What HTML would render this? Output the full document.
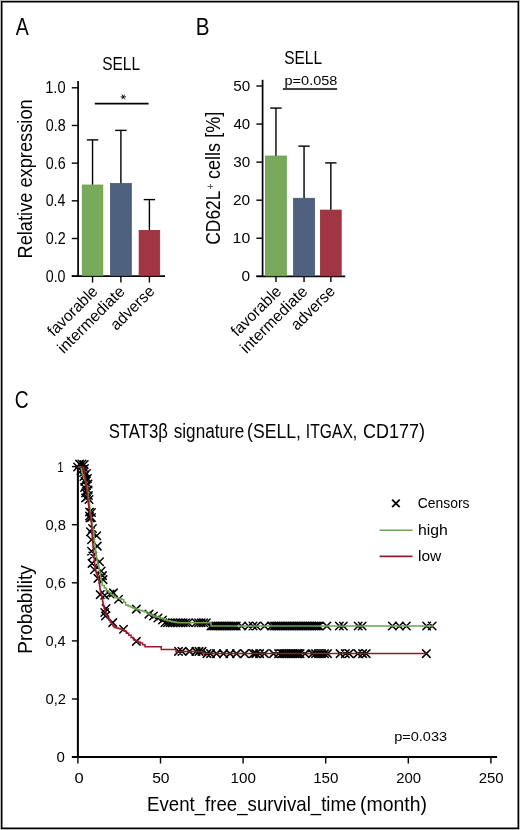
<!DOCTYPE html>
<html><head><meta charset="utf-8"><style>
html,body{margin:0;padding:0;background:#fff;}
body{width:520px;height:830px;overflow:hidden;}
svg{display:block;font-family:"Liberation Sans", sans-serif;will-change:transform;}
</style></head><body>
<svg width="520" height="830" viewBox="0 0 520 830">
<rect x="0" y="0" width="520" height="830" fill="#fff"/>
<rect x="0.5" y="0.5" width="519" height="829" fill="none" stroke="#bbb" stroke-width="1"/>
<rect x="1.75" y="1.75" width="516.5" height="826.5" fill="none" stroke="#000" stroke-width="1.5"/>
<text x="15.76" y="35.00" font-size="23.50" textLength="12.98" lengthAdjust="spacingAndGlyphs" fill="#000" >A</text>
<text x="102.20" y="69.80" font-size="18.90" textLength="37.91" lengthAdjust="spacingAndGlyphs" fill="#000" >SELL</text>
<path d="M120.6,96.9H126M121.9,94.5L124.7,99.3M124.7,94.5L121.9,99.3" stroke="#000" stroke-width="0.9" fill="none"/>
<line x1="94.8" y1="103.7" x2="148.6" y2="103.7" stroke="#000" stroke-width="1.8" />
<line x1="78.1" y1="81.1" x2="78.1" y2="277.05" stroke="#000" stroke-width="1.7" />
<line x1="71.8" y1="276.2" x2="165" y2="276.2" stroke="#000" stroke-width="1.7" />
<line x1="71.8" y1="276.2" x2="78.1" y2="276.2" stroke="#000" stroke-width="1.4" />
<line x1="71.8" y1="238.51999999999998" x2="78.1" y2="238.51999999999998" stroke="#000" stroke-width="1.4" />
<line x1="71.8" y1="200.83999999999997" x2="78.1" y2="200.83999999999997" stroke="#000" stroke-width="1.4" />
<line x1="71.8" y1="163.15999999999997" x2="78.1" y2="163.15999999999997" stroke="#000" stroke-width="1.4" />
<line x1="71.8" y1="125.47999999999999" x2="78.1" y2="125.47999999999999" stroke="#000" stroke-width="1.4" />
<line x1="71.8" y1="87.80000000000001" x2="78.1" y2="87.80000000000001" stroke="#000" stroke-width="1.4" />
<rect x="82.30" y="185.04" width="20.50" height="90.71" fill="#79a95b" stroke="#639a45" stroke-width="0.8"/>
<line x1="92.55000000000001" y1="139.8926" x2="92.55000000000001" y2="184.63760000000002" stroke="#000" stroke-width="1.4" />
<line x1="86.85000000000001" y1="139.8926" x2="98.25000000000001" y2="139.8926" stroke="#000" stroke-width="1.4" />
<line x1="92.55000000000001" y1="276.2" x2="92.55000000000001" y2="282.5" stroke="#000" stroke-width="1.4" />
<rect x="110.50" y="183.53" width="20.80" height="92.22" fill="#4e6280" stroke="#415675" stroke-width="0.8"/>
<line x1="120.89999999999999" y1="130.3784" x2="120.89999999999999" y2="183.1304" stroke="#000" stroke-width="1.4" />
<line x1="115.19999999999999" y1="130.3784" x2="126.6" y2="130.3784" stroke="#000" stroke-width="1.4" />
<line x1="120.89999999999999" y1="276.2" x2="120.89999999999999" y2="282.5" stroke="#000" stroke-width="1.4" />
<rect x="139.10" y="230.44" width="20.60" height="45.31" fill="#a03643" stroke="#922a38" stroke-width="0.8"/>
<line x1="149.39999999999998" y1="199.59656" x2="149.39999999999998" y2="230.042" stroke="#000" stroke-width="1.4" />
<line x1="143.7" y1="199.59656" x2="155.09999999999997" y2="199.59656" stroke="#000" stroke-width="1.4" />
<line x1="149.39999999999998" y1="276.2" x2="149.39999999999998" y2="282.5" stroke="#000" stroke-width="1.4" />
<text x="45.74" y="281.70" font-size="15.60" textLength="19.80" lengthAdjust="spacingAndGlyphs" fill="#000" >0.0</text>
<text x="45.74" y="244.02" font-size="15.60" textLength="19.98" lengthAdjust="spacingAndGlyphs" fill="#000" >0.2</text>
<text x="45.75" y="206.34" font-size="15.60" textLength="19.66" lengthAdjust="spacingAndGlyphs" fill="#000" >0.4</text>
<text x="45.74" y="168.66" font-size="15.60" textLength="19.87" lengthAdjust="spacingAndGlyphs" fill="#000" >0.6</text>
<text x="45.74" y="130.98" font-size="15.60" textLength="19.87" lengthAdjust="spacingAndGlyphs" fill="#000" >0.8</text>
<text x="45.19" y="93.30" font-size="15.60" textLength="20.37" lengthAdjust="spacingAndGlyphs" fill="#000" >1.0</text>
<text transform="translate(31.90,0) rotate(-90)" x="-258.50" y="0" font-size="20.60" textLength="159.17" lengthAdjust="spacingAndGlyphs" fill="#000">Relative expression</text>
<text transform="rotate(-45)" x="-200.61" y="276.48" font-size="15.90" textLength="63.69" lengthAdjust="spacingAndGlyphs">favorable</text>
<text transform="rotate(-45)" x="-205.33" y="295.64" font-size="15.90" textLength="87.45" lengthAdjust="spacingAndGlyphs">intermediate</text>
<text transform="rotate(-45)" x="-151.62" y="316.54" font-size="15.90" textLength="55.01" lengthAdjust="spacingAndGlyphs">adverse</text>
<text x="195.81" y="35.20" font-size="23.50" textLength="13.77" lengthAdjust="spacingAndGlyphs" fill="#000" >B</text>
<text x="284.20" y="63.80" font-size="18.90" textLength="37.91" lengthAdjust="spacingAndGlyphs" fill="#000" >SELL</text>
<text x="284.57" y="84.80" font-size="13.30" textLength="52.76" lengthAdjust="spacingAndGlyphs" fill="#000" >p=0.058</text>
<line x1="282.9" y1="89.0" x2="337.1" y2="89.0" stroke="#000" stroke-width="1.5" />
<line x1="262.6" y1="79.8" x2="262.6" y2="277.05" stroke="#000" stroke-width="1.7" />
<line x1="256.4" y1="276.3" x2="345.2" y2="276.3" stroke="#000" stroke-width="1.7" />
<line x1="256.4" y1="276.3" x2="262.6" y2="276.3" stroke="#000" stroke-width="1.4" />
<line x1="256.4" y1="238.24" x2="262.6" y2="238.24" stroke="#000" stroke-width="1.4" />
<line x1="256.4" y1="200.18" x2="262.6" y2="200.18" stroke="#000" stroke-width="1.4" />
<line x1="256.4" y1="162.12" x2="262.6" y2="162.12" stroke="#000" stroke-width="1.4" />
<line x1="256.4" y1="124.06" x2="262.6" y2="124.06" stroke="#000" stroke-width="1.4" />
<line x1="256.4" y1="86.0" x2="262.6" y2="86.0" stroke="#000" stroke-width="1.4" />
<rect x="265.60" y="156.05" width="20.70" height="119.80" fill="#79a95b" stroke="#639a45" stroke-width="0.8"/>
<line x1="275.95" y1="108.07480000000001" x2="275.95" y2="155.64980000000003" stroke="#000" stroke-width="1.4" />
<line x1="270.25" y1="108.07480000000001" x2="281.65" y2="108.07480000000001" stroke="#000" stroke-width="1.4" />
<line x1="275.95" y1="276.3" x2="275.95" y2="282.0" stroke="#000" stroke-width="1.4" />
<rect x="293.60" y="198.30" width="20.90" height="77.55" fill="#4e6280" stroke="#415675" stroke-width="0.8"/>
<line x1="304.04999999999995" y1="146.13479999999998" x2="304.04999999999995" y2="197.8964" stroke="#000" stroke-width="1.4" />
<line x1="298.34999999999997" y1="146.13479999999998" x2="309.74999999999994" y2="146.13479999999998" stroke="#000" stroke-width="1.4" />
<line x1="304.04999999999995" y1="276.3" x2="304.04999999999995" y2="282.0" stroke="#000" stroke-width="1.4" />
<rect x="320.50" y="210.09" width="20.70" height="65.76" fill="#a03643" stroke="#922a38" stroke-width="0.8"/>
<line x1="330.85" y1="162.8812" x2="330.85" y2="209.695" stroke="#000" stroke-width="1.4" />
<line x1="325.15000000000003" y1="162.8812" x2="336.55" y2="162.8812" stroke="#000" stroke-width="1.4" />
<line x1="330.85" y1="276.3" x2="330.85" y2="282.0" stroke="#000" stroke-width="1.4" />
<text x="241.60" y="281.30" font-size="15.40" textLength="8.59" lengthAdjust="spacingAndGlyphs" fill="#000" >0</text>
<text x="232.60" y="243.24" font-size="15.40" textLength="17.61" lengthAdjust="spacingAndGlyphs" fill="#000" >10</text>
<text x="233.03" y="205.18" font-size="15.40" textLength="17.16" lengthAdjust="spacingAndGlyphs" fill="#000" >20</text>
<text x="233.22" y="167.12" font-size="15.40" textLength="16.96" lengthAdjust="spacingAndGlyphs" fill="#000" >30</text>
<text x="233.47" y="129.06" font-size="15.40" textLength="16.71" lengthAdjust="spacingAndGlyphs" fill="#000" >40</text>
<text x="233.19" y="91.00" font-size="15.40" textLength="17.00" lengthAdjust="spacingAndGlyphs" fill="#000" >50</text>
<text transform="translate(219.50,0) rotate(-90)" x="-244.77" y="0" font-size="20.00" textLength="54.24" lengthAdjust="spacingAndGlyphs" fill="#000">CD62L</text>
<text transform="translate(213.8,0) rotate(-90)" x="-189.6" y="0" font-size="11.5" textLength="6.0" lengthAdjust="spacingAndGlyphs" fill="#333">+</text>
<text transform="translate(219.50,0) rotate(-90)" x="-178.96" y="0" font-size="20.00" textLength="67.14" lengthAdjust="spacingAndGlyphs" fill="#000">cells [%]</text>
<text transform="rotate(-45)" x="-70.79" y="406.30" font-size="15.90" textLength="63.69" lengthAdjust="spacingAndGlyphs">favorable</text>
<text transform="rotate(-45)" x="-76.14" y="424.83" font-size="15.90" textLength="87.45" lengthAdjust="spacingAndGlyphs">intermediate</text>
<text transform="rotate(-45)" x="-23.98" y="444.17" font-size="15.90" textLength="55.01" lengthAdjust="spacingAndGlyphs">adverse</text>
<text x="14.84" y="407.90" font-size="23.50" textLength="13.87" lengthAdjust="spacingAndGlyphs" fill="#000" >C</text>
<text x="108.65" y="437.60" font-size="19.30" textLength="59.32" lengthAdjust="spacingAndGlyphs" fill="#000" >STAT3β</text>
<text x="173.74" y="437.60" font-size="19.30" textLength="70.51" lengthAdjust="spacingAndGlyphs" fill="#000" >signature</text>
<text x="247.11" y="437.60" font-size="19.30" textLength="53.78" lengthAdjust="spacingAndGlyphs" fill="#000" >(SELL,</text>
<text x="305.86" y="437.60" font-size="19.30" textLength="51.34" lengthAdjust="spacingAndGlyphs" fill="#000" >ITGAX,</text>
<text x="363.00" y="437.60" font-size="19.30" textLength="61.91" lengthAdjust="spacingAndGlyphs" fill="#000" >CD177)</text>
<line x1="77.9" y1="465.6" x2="77.9" y2="758.0" stroke="#000" stroke-width="2.0" />
<line x1="71.9" y1="757.1" x2="497.1" y2="757.1" stroke="#000" stroke-width="2.0" />
<line x1="71.9" y1="757.1" x2="77.9" y2="757.1" stroke="#000" stroke-width="1.4" />
<line x1="71.9" y1="699.0" x2="77.9" y2="699.0" stroke="#000" stroke-width="1.4" />
<line x1="71.9" y1="640.9" x2="77.9" y2="640.9" stroke="#000" stroke-width="1.4" />
<line x1="71.9" y1="582.8" x2="77.9" y2="582.8" stroke="#000" stroke-width="1.4" />
<line x1="71.9" y1="524.7" x2="77.9" y2="524.7" stroke="#000" stroke-width="1.4" />
<line x1="71.9" y1="466.6" x2="77.9" y2="466.6" stroke="#000" stroke-width="1.4" />
<line x1="77.9" y1="757.1" x2="77.9" y2="763.5" stroke="#000" stroke-width="1.4" />
<line x1="160.5" y1="757.1" x2="160.5" y2="763.5" stroke="#000" stroke-width="1.4" />
<line x1="243.1" y1="757.1" x2="243.1" y2="763.5" stroke="#000" stroke-width="1.4" />
<line x1="325.7" y1="757.1" x2="325.7" y2="763.5" stroke="#000" stroke-width="1.4" />
<line x1="408.29999999999995" y1="757.1" x2="408.29999999999995" y2="763.5" stroke="#000" stroke-width="1.4" />
<line x1="490.9" y1="757.1" x2="490.9" y2="763.5" stroke="#000" stroke-width="1.4" />
<text x="56.61" y="762.40" font-size="14.90" textLength="8.36" lengthAdjust="spacingAndGlyphs" fill="#000" >0</text>
<text x="45.42" y="704.30" font-size="14.90" textLength="20.57" lengthAdjust="spacingAndGlyphs" fill="#000" >0,2</text>
<text x="45.43" y="646.20" font-size="14.90" textLength="20.24" lengthAdjust="spacingAndGlyphs" fill="#000" >0,4</text>
<text x="45.43" y="588.10" font-size="14.90" textLength="20.46" lengthAdjust="spacingAndGlyphs" fill="#000" >0,6</text>
<text x="45.43" y="530.00" font-size="14.90" textLength="20.46" lengthAdjust="spacingAndGlyphs" fill="#000" >0,8</text>
<text x="57.22" y="471.90" font-size="14.90" textLength="6.44" lengthAdjust="spacingAndGlyphs" fill="#000" >1</text>
<text x="74.41" y="782.90" font-size="14.90" textLength="9.17" lengthAdjust="spacingAndGlyphs" fill="#000" >0</text>
<text x="152.17" y="782.90" font-size="14.90" textLength="17.43" lengthAdjust="spacingAndGlyphs" fill="#000" >50</text>
<text x="230.55" y="782.90" font-size="14.90" textLength="25.34" lengthAdjust="spacingAndGlyphs" fill="#000" >100</text>
<text x="313.15" y="782.90" font-size="14.90" textLength="25.34" lengthAdjust="spacingAndGlyphs" fill="#000" >150</text>
<text x="396.15" y="782.90" font-size="14.90" textLength="24.92" lengthAdjust="spacingAndGlyphs" fill="#000" >200</text>
<text x="478.75" y="782.90" font-size="14.90" textLength="24.92" lengthAdjust="spacingAndGlyphs" fill="#000" >250</text>
<text transform="translate(31.70,0) rotate(-90)" x="-653.65" y="0" font-size="20.10" textLength="88.39" lengthAdjust="spacingAndGlyphs" fill="#000">Probability</text>
<text x="147.07" y="810.60" font-size="20.30" textLength="209.36" lengthAdjust="spacingAndGlyphs" fill="#000" >Event_free_survival_time</text>
<text x="360.10" y="810.60" font-size="20.30" textLength="66.91" lengthAdjust="spacingAndGlyphs" fill="#000" >(month)</text>
<path d="M392.1,499.6 L399.7,507.2 M399.7,499.6 L392.1,507.2" stroke="#000" stroke-width="1.8" fill="none"/>
<text x="417.81" y="508.10" font-size="15.40" textLength="51.69" lengthAdjust="spacingAndGlyphs" fill="#000" >Censors</text>
<line x1="379.6" y1="530.2" x2="412.5" y2="530.2" stroke="#6ea550" stroke-width="1.6" />
<text x="417.91" y="535.00" font-size="15.40" textLength="29.81" lengthAdjust="spacingAndGlyphs" fill="#000" >high</text>
<line x1="379.6" y1="556.4" x2="412.5" y2="556.4" stroke="#961a2d" stroke-width="1.6" />
<text x="417.96" y="560.70" font-size="15.40" textLength="23.30" lengthAdjust="spacingAndGlyphs" fill="#000" >low</text>
<text x="394.17" y="740.80" font-size="13.50" textLength="52.96" lengthAdjust="spacingAndGlyphs" fill="#000" >p=0.033</text>
<path d="M73.8,463.2L81.3,470.8M81.3,463.2L73.8,470.8M75.8,460.4L83.2,467.9M83.2,460.4L75.8,467.9M78.2,460.2L85.8,467.8M85.8,460.2L78.2,467.8M80.5,460.8L88.0,468.2M88.0,460.8L80.5,468.2M80.8,464.8L88.2,472.2M88.2,464.8L80.8,472.2M77.2,466.8L84.8,474.2M84.8,466.8L77.2,474.2M79.8,468.8L87.2,476.2M87.2,468.8L79.8,476.2M82.8,469.8L90.2,477.2M90.2,469.8L82.8,477.2M80.2,472.8L87.8,480.2M87.8,472.8L80.2,480.2M83.8,474.8L91.2,482.2M91.2,474.8L83.8,482.2M81.2,477.8L88.8,485.2M88.8,477.8L81.2,485.2M84.2,480.2L91.8,487.8M91.8,480.2L84.2,487.8M80.8,483.8L88.2,491.2M88.2,483.8L80.8,491.2M84.2,486.2L91.8,493.8M91.8,486.2L84.2,493.8M81.8,489.2L89.2,496.8M89.2,489.2L81.8,496.8M84.8,491.8L92.2,499.2M92.2,491.8L84.8,499.2M81.8,494.2L89.2,501.8M89.2,494.2L81.8,501.8M85.2,495.8L92.8,503.2M92.8,495.8L85.2,503.2M82.2,475.8L89.8,483.2M89.8,475.8L82.2,483.2M82.8,481.8L90.2,489.2M90.2,481.8L82.8,489.2M82.8,487.8L90.2,495.2M90.2,487.8L82.8,495.2M83.2,493.2L90.8,500.8M90.8,493.2L83.2,500.8M81.8,470.8L89.2,478.2M89.2,470.8L81.8,478.2M85.8,508.2L93.2,515.8M93.2,508.2L85.8,515.8M87.8,508.8L95.2,516.2M95.2,508.8L87.8,516.2M85.8,512.2L93.2,519.8M93.2,512.2L85.8,519.8M87.8,513.8L95.2,521.2M95.2,513.8L87.8,521.2M86.2,514.2L93.8,521.8M93.8,514.2L86.2,521.8M88.8,524.8L96.2,532.2M96.2,524.8L88.8,532.2M86.7,528.0L94.2,535.5M94.2,528.0L86.7,535.5M93.0,532.0L100.5,539.5M100.5,532.0L93.0,539.5M87.8,536.0L95.2,543.5M95.2,536.0L87.8,543.5M93.5,542.4L101.0,549.9M101.0,542.4L93.5,549.9M87.8,547.5L95.2,555.0M95.2,547.5L87.8,555.0M89.0,552.2L96.5,559.8M96.5,552.2L89.0,559.8M95.8,558.0L103.3,565.5M103.3,558.0L95.8,565.5M88.3,559.6L95.8,567.1M95.8,559.6L88.3,567.1M90.7,566.0L98.2,573.5M98.2,566.0L90.7,573.5M97.5,567.2L105.0,574.8M105.0,567.2L97.5,574.8M98.8,571.9L106.2,579.4M106.2,571.9L98.8,579.4M94.2,574.6L101.7,582.1M101.7,574.6L94.2,582.1M99.3,575.9L106.8,583.4M106.8,575.9L99.3,583.4M96.5,590.9L104.0,598.4M104.0,590.9L96.5,598.4M101.0,591.5L108.5,599.0M108.5,591.5L101.0,599.0M106.2,590.2L113.8,597.8M113.8,590.2L106.2,597.8M109.7,589.1L117.2,596.6M117.2,589.1L109.7,596.6M114.8,595.5L122.3,603.0M122.3,595.5L114.8,603.0M132.6,605.4L140.1,612.9M140.1,605.4L132.6,612.9M145.2,610.4L152.8,617.9M152.8,610.4L145.2,617.9M149.8,612.2L157.2,619.8M157.2,612.2L149.8,619.8M154.2,614.2L161.8,621.8M161.8,614.2L154.2,621.8M158.8,616.2L166.2,623.8M166.2,616.2L158.8,623.8M102.3,604.8L109.8,612.2M109.8,604.8L102.3,612.2M101.0,608.8L108.5,616.2M108.5,608.8L101.0,616.2M101.7,612.2L109.2,619.8M109.2,612.2L101.7,619.8M109.0,618.9L116.5,626.4M116.5,618.9L109.0,626.4M119.8,625.5L127.3,633.0M127.3,625.5L119.8,633.0M132.6,637.6L140.1,645.1M140.1,637.6L132.6,645.1M161.2,619.0L168.8,626.5M168.8,619.0L161.2,626.5M163.8,619.0L171.3,626.5M171.3,619.0L163.8,626.5M166.4,619.0L173.9,626.5M173.9,619.0L166.4,626.5M169.0,619.0L176.5,626.5M176.5,619.0L169.0,626.5M171.6,619.0L179.1,626.5M179.1,619.0L171.6,626.5M174.2,619.0L181.7,626.5M181.7,619.0L174.2,626.5M176.8,619.0L184.3,626.5M184.3,619.0L176.8,626.5M179.4,619.0L186.9,626.5M186.9,619.0L179.4,626.5M182.0,619.0L189.5,626.5M189.5,619.0L182.0,626.5M184.6,619.0L192.1,626.5M192.1,619.0L184.6,626.5M192.2,619.0L199.8,626.5M199.8,619.0L192.2,626.5M194.8,619.0L202.3,626.5M202.3,619.0L194.8,626.5M197.4,619.0L204.9,626.5M204.9,619.0L197.4,626.5M200.0,619.0L207.5,626.5M207.5,619.0L200.0,626.5M202.6,619.0L210.1,626.5M210.1,619.0L202.6,626.5M207.2,622.2L214.8,629.8M214.8,622.2L207.2,629.8M209.1,622.2L216.6,629.8M216.6,622.2L209.1,629.8M210.9,622.2L218.4,629.8M218.4,622.2L210.9,629.8M212.7,622.2L220.2,629.8M220.2,622.2L212.7,629.8M214.5,622.2L222.0,629.8M222.0,622.2L214.5,629.8M216.3,622.2L223.8,629.8M223.8,622.2L216.3,629.8M218.1,622.2L225.6,629.8M225.6,622.2L218.1,629.8M219.9,622.2L227.4,629.8M227.4,622.2L219.9,629.8M221.7,622.2L229.2,629.8M229.2,622.2L221.7,629.8M223.5,622.2L231.0,629.8M231.0,622.2L223.5,629.8M225.3,622.2L232.8,629.8M232.8,622.2L225.3,629.8M227.1,622.2L234.6,629.8M234.6,622.2L227.1,629.8M228.9,622.2L236.4,629.8M236.4,622.2L228.9,629.8M230.7,622.2L238.2,629.8M238.2,622.2L230.7,629.8M232.5,622.2L240.0,629.8M240.0,622.2L232.5,629.8M237.8,622.2L245.2,629.8M245.2,622.2L237.8,629.8M244.8,622.2L252.2,629.8M252.2,622.2L244.8,629.8M249.2,622.2L256.8,629.8M256.8,622.2L249.2,629.8M252.8,622.2L260.2,629.8M260.2,622.2L252.8,629.8M260.8,622.2L268.2,629.8M268.2,622.2L260.8,629.8M267.8,622.2L275.2,629.8M275.2,622.2L267.8,629.8M270.2,622.2L277.8,629.8M277.8,622.2L270.2,629.8M272.1,622.2L279.6,629.8M279.6,622.2L272.1,629.8M273.9,622.2L281.4,629.8M281.4,622.2L273.9,629.8M275.7,622.2L283.2,629.8M283.2,622.2L275.7,629.8M277.5,622.2L285.0,629.8M285.0,622.2L277.5,629.8M279.3,622.2L286.8,629.8M286.8,622.2L279.3,629.8M281.1,622.2L288.6,629.8M288.6,622.2L281.1,629.8M282.9,622.2L290.4,629.8M290.4,622.2L282.9,629.8M284.7,622.2L292.2,629.8M292.2,622.2L284.7,629.8M286.5,622.2L294.0,629.8M294.0,622.2L286.5,629.8M288.3,622.2L295.8,629.8M295.8,622.2L288.3,629.8M290.1,622.2L297.6,629.8M297.6,622.2L290.1,629.8M291.9,622.2L299.4,629.8M299.4,622.2L291.9,629.8M293.7,622.2L301.2,629.8M301.2,622.2L293.7,629.8M295.5,622.2L303.0,629.8M303.0,622.2L295.5,629.8M297.3,622.2L304.8,629.8M304.8,622.2L297.3,629.8M299.1,622.2L306.6,629.8M306.6,622.2L299.1,629.8M300.9,622.2L308.4,629.8M308.4,622.2L300.9,629.8M302.7,622.2L310.2,629.8M310.2,622.2L302.7,629.8M304.5,622.2L312.0,629.8M312.0,622.2L304.5,629.8M306.3,622.2L313.8,629.8M313.8,622.2L306.3,629.8M308.1,622.2L315.6,629.8M315.6,622.2L308.1,629.8M309.9,622.2L317.4,629.8M317.4,622.2L309.9,629.8M311.7,622.2L319.2,629.8M319.2,622.2L311.7,629.8M313.5,622.2L321.0,629.8M321.0,622.2L313.5,629.8M315.3,622.2L322.8,629.8M322.8,622.2L315.3,629.8M323.1,622.2L330.6,629.8M330.6,622.2L323.1,629.8M335.6,622.2L343.1,629.8M343.1,622.2L335.6,629.8M339.6,622.2L347.1,629.8M347.1,622.2L339.6,629.8M354.4,622.2L361.9,629.8M361.9,622.2L354.4,629.8M358.4,622.2L365.9,629.8M365.9,622.2L358.4,629.8M388.6,622.2L396.1,629.8M396.1,622.2L388.6,629.8M395.6,622.2L403.1,629.8M403.1,622.2L395.6,629.8M402.6,622.2L410.1,629.8M410.1,622.2L402.6,629.8M422.9,622.2L430.4,629.8M430.4,622.2L422.9,629.8M428.4,622.2L435.9,629.8M435.9,622.2L428.4,629.8M174.8,647.6L182.2,655.1M182.2,647.6L174.8,655.1M178.2,647.6L185.8,655.1M185.8,647.6L178.2,655.1M185.8,647.6L193.2,655.1M193.2,647.6L185.8,655.1M192.2,647.6L199.8,655.1M199.8,647.6L192.2,655.1M195.2,647.6L202.8,655.1M202.8,647.6L195.2,655.1M198.2,647.6L205.8,655.1M205.8,647.6L198.2,655.1M203.2,649.9L210.8,657.4M210.8,649.9L203.2,657.4M206.8,649.9L214.2,657.4M214.2,649.9L206.8,657.4M212.8,649.9L220.2,657.4M220.2,649.9L212.8,657.4M219.8,649.9L227.2,657.4M227.2,649.9L219.8,657.4M226.2,649.9L233.8,657.4M233.8,649.9L226.2,657.4M232.8,649.9L240.2,657.4M240.2,649.9L232.8,657.4M240.9,649.9L248.4,657.4M248.4,649.9L240.9,657.4M249.8,649.9L257.2,657.4M257.2,649.9L249.8,657.4M252.2,649.9L259.8,657.4M259.8,649.9L252.2,657.4M255.9,649.9L263.4,657.4M263.4,649.9L255.9,657.4M260.6,649.9L268.1,657.4M268.1,649.9L260.6,657.4M269.8,649.9L277.2,657.4M277.2,649.9L269.8,657.4M274.9,649.9L282.4,657.4M282.4,649.9L274.9,657.4M278.2,649.9L285.8,657.4M285.8,649.9L278.2,657.4M280.1,649.9L287.6,657.4M287.6,649.9L280.1,657.4M281.9,649.9L289.4,657.4M289.4,649.9L281.9,657.4M283.7,649.9L291.2,657.4M291.2,649.9L283.7,657.4M285.5,649.9L293.0,657.4M293.0,649.9L285.5,657.4M287.3,649.9L294.8,657.4M294.8,649.9L287.3,657.4M289.1,649.9L296.6,657.4M296.6,649.9L289.1,657.4M290.9,649.9L298.4,657.4M298.4,649.9L290.9,657.4M292.7,649.9L300.2,657.4M300.2,649.9L292.7,657.4M294.5,649.9L302.0,657.4M302.0,649.9L294.5,657.4M296.3,649.9L303.8,657.4M303.8,649.9L296.3,657.4M301.2,649.9L308.8,657.4M308.8,649.9L301.2,657.4M308.8,649.9L316.2,657.4M316.2,649.9L308.8,657.4M311.8,649.9L319.2,657.4M319.2,649.9L311.8,657.4M314.8,649.9L322.2,657.4M322.2,649.9L314.8,657.4M317.8,649.9L325.2,657.4M325.2,649.9L317.8,657.4M320.8,649.9L328.2,657.4M328.2,649.9L320.8,657.4M323.8,649.9L331.2,657.4M331.2,649.9L323.8,657.4M336.4,649.9L343.9,657.4M343.9,649.9L336.4,657.4M341.6,649.9L349.1,657.4M349.1,649.9L341.6,657.4M345.4,649.9L352.9,657.4M352.9,649.9L345.4,657.4M354.1,649.9L361.6,657.4M361.6,649.9L354.1,657.4M358.9,649.9L366.4,657.4M366.4,649.9L358.9,657.4M362.4,649.9L369.9,657.4M369.9,649.9L362.4,657.4M422.6,649.9L430.1,657.4M430.1,649.9L422.6,657.4" stroke="#000" stroke-width="1.5" stroke-linecap="round" fill="none"/>
<polyline points="77.90,467.30 81.20,467.30 81.20,469.00 81.63,469.00 81.63,471.00 82.07,471.00 82.07,473.00 82.50,473.00 82.50,475.00 83.50,475.00 83.50,477.33 84.50,477.33 84.50,479.67 85.50,479.67 85.50,482.00 86.00,482.00 86.00,484.00 86.50,484.00 86.50,486.00 87.00,486.00 87.00,488.00 87.50,488.00 87.50,490.00 87.70,490.00 87.70,492.00 87.90,492.00 87.90,494.00 88.10,494.00 88.10,496.00 88.30,496.00 88.30,498.00 88.50,498.00 88.50,500.00 89.00,500.00 89.00,502.50 89.50,502.50 89.50,505.00 89.70,505.00 89.70,507.00 89.90,507.00 89.90,509.00 90.10,509.00 90.10,511.00 90.30,511.00 90.30,513.00 90.50,513.00 90.50,515.00 90.80,515.00 90.80,517.00 91.10,517.00 91.10,519.00 91.40,519.00 91.40,521.00 91.70,521.00 91.70,523.00 92.00,523.00 92.00,525.00 92.38,525.00 92.38,526.92 92.75,526.92 92.75,528.85 93.12,528.85 93.12,530.78 93.50,530.78 93.50,532.70 93.74,532.70 93.74,535.00 93.98,535.00 93.98,537.30 94.22,537.30 94.22,539.60 94.46,539.60 94.46,541.90 94.70,541.90 94.70,544.20 95.00,544.20 95.00,546.52 95.30,546.52 95.30,548.84 95.60,548.84 95.60,551.16 95.90,551.16 95.90,553.48 96.20,553.48 96.20,555.80 96.60,555.80 96.60,558.10 97.00,558.10 97.00,560.40 97.40,560.40 97.40,562.70 97.80,562.70 97.80,565.00 98.80,565.00 98.80,567.70 99.18,567.70 99.18,569.70 99.56,569.70 99.56,571.70 99.94,571.70 99.94,573.70 100.32,573.70 100.32,575.70 100.70,575.70 100.70,577.70 101.20,577.70 101.20,580.27 101.70,580.27 101.70,582.83 102.20,582.83 102.20,585.40 104.35,585.40 104.35,588.10 106.50,588.10 106.50,590.80 108.80,590.80 108.80,592.70 111.10,592.70 111.10,594.60 113.40,594.60 113.40,596.15 115.70,596.15 115.70,597.70 117.73,597.70 117.73,598.33 119.77,598.33 119.77,598.97 121.80,598.97 121.80,599.60 123.70,599.60 123.70,602.35 125.60,602.35 125.60,605.10 127.95,605.10 127.95,606.10 130.30,606.10 130.30,607.10 132.65,607.10 132.65,608.10 135.00,608.10 135.00,609.10 137.35,609.10 137.35,609.77 139.70,609.77 139.70,610.45 142.05,610.45 142.05,611.12 144.40,611.12 144.40,611.80 146.70,611.80 146.70,612.95 149.00,612.95 149.00,614.10 151.00,614.10 151.00,615.05 153.00,615.05 153.00,616.00 155.33,616.00 155.33,616.67 157.67,616.67 157.67,617.33 160.00,617.33 160.00,618.00 162.25,618.00 162.25,619.00 164.50,619.00 164.50,620.00 167.25,620.00 167.25,620.65 170.00,620.65 170.00,621.30 172.00,621.30 172.00,621.67 174.00,621.67 174.00,622.05 176.00,622.05 176.00,622.42 178.00,622.42 178.00,622.80 211.00,622.80 211.00,626.00 433.50,626.00" fill="none" stroke="#6ea550" stroke-width="1.5" stroke-linejoin="miter"/>
<polyline points="77.90,467.30 83.50,467.30 83.83,467.30 83.83,469.87 84.17,469.87 84.17,472.43 84.50,472.43 84.50,475.00 84.80,475.00 84.80,477.00 85.10,477.00 85.10,479.00 85.40,479.00 85.40,481.00 85.70,481.00 85.70,483.00 86.00,483.00 86.00,485.00 86.24,485.00 86.24,487.00 86.48,487.00 86.48,489.00 86.72,489.00 86.72,491.00 86.96,491.00 86.96,493.00 87.20,493.00 87.20,495.00 87.46,495.00 87.46,497.00 87.72,497.00 87.72,499.00 87.98,499.00 87.98,501.00 88.24,501.00 88.24,503.00 88.50,503.00 88.50,505.00 88.78,505.00 88.78,507.00 89.05,507.00 89.05,509.00 89.32,509.00 89.32,511.00 89.60,511.00 89.60,513.00 89.98,513.00 89.98,515.32 90.36,515.32 90.36,517.64 90.74,517.64 90.74,519.96 91.12,519.96 91.12,522.28 91.50,522.28 91.50,524.60 91.63,524.60 91.63,526.86 91.76,526.86 91.76,529.11 91.89,529.11 91.89,531.37 92.01,531.37 92.01,533.63 92.14,533.63 92.14,535.89 92.27,535.89 92.27,538.14 92.40,538.14 92.40,540.40 92.62,540.40 92.62,542.70 92.84,542.70 92.84,545.00 93.06,545.00 93.06,547.30 93.28,547.30 93.28,549.60 93.50,549.60 93.50,551.90 93.70,551.90 93.70,554.08 93.90,554.08 93.90,556.27 94.10,556.27 94.10,558.45 94.30,558.45 94.30,560.63 94.50,560.63 94.50,562.82 94.70,562.82 94.70,565.00 95.03,565.00 95.03,567.17 95.37,567.17 95.37,569.33 95.70,569.33 95.70,571.50 96.47,571.50 96.47,573.83 97.25,573.83 97.25,576.15 98.03,576.15 98.03,578.47 98.80,578.47 98.80,580.80 99.10,580.80 99.10,582.80 99.40,582.80 99.40,584.80 99.70,584.80 99.70,586.80 100.00,586.80 100.00,588.80 100.30,588.80 100.30,590.80 100.80,590.80 100.80,592.90 101.30,592.90 101.30,595.00 101.72,595.00 101.72,597.16 102.14,597.16 102.14,599.32 102.56,599.32 102.56,601.48 102.98,601.48 102.98,603.64 103.40,603.64 103.40,605.80 104.08,605.80 104.08,608.15 104.75,608.15 104.75,610.50 105.42,610.50 105.42,612.85 106.10,612.85 106.10,615.20 107.43,615.20 107.43,617.43 108.77,617.43 108.77,619.67 110.10,619.67 110.10,621.90 111.47,621.90 111.47,623.77 112.83,623.77 112.83,625.63 114.20,625.63 114.20,627.50 116.12,627.50 116.12,627.98 118.05,627.98 118.05,628.45 119.98,628.45 119.98,628.92 121.90,628.92 121.90,629.40 124.17,629.40 124.17,631.33 126.43,631.33 126.43,633.27 128.70,633.27 128.70,635.20 131.10,635.20 131.10,637.60 133.50,637.60 133.50,640.00 135.73,640.00 135.73,640.97 137.97,640.97 137.97,641.93 140.20,641.93 140.20,642.90 142.60,642.90 142.60,644.80 145.00,644.80 145.00,646.70 161.30,646.70 161.30,649.40 176.00,649.40 176.00,651.40 203.00,651.40 203.00,653.60 426.40,653.60" fill="none" stroke="#961a2d" stroke-width="1.5" stroke-linejoin="miter"/>
</svg>
</body></html>
